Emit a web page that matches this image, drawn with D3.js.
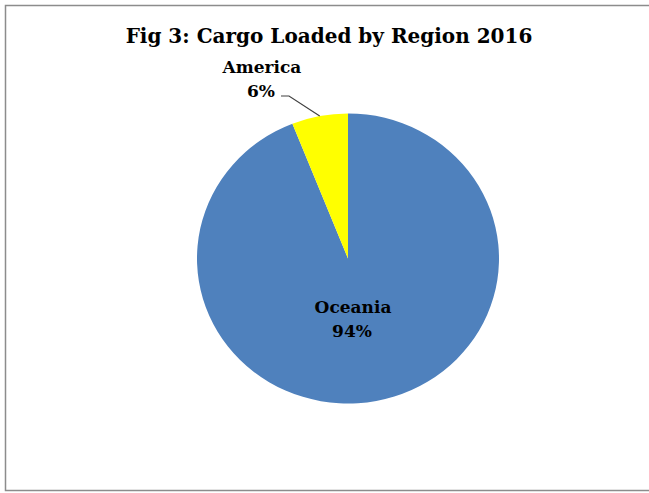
<!DOCTYPE html>
<html>
<head>
<meta charset="utf-8">
<script src="https://cdn.jsdelivr.net/npm/d3@7"></script>
<style>
  body { margin: 0; background: #fff; }
  text { font-family: "DejaVu Serif", "Liberation Serif", serif; font-weight: bold; fill: #000; }
</style>
</head>
<body>
<script>
// data
const regions = ['Oceania', 'America']
const shares = [94, 6]
const colors = ['#4F81BD', '#FFFF00']

const w = 649
const h = 493

// pie geometry (the reference pie is slightly wider than tall)
const cx = 348
const cy = 258.5
const r = 145
const sx = 151 / 145

let svg = d3.select('body')
    .append('svg')
    .attr('width', w)
    .attr('height', h)

// outer frame
svg.append('rect')
    .attr('x', 5.5)
    .attr('y', 5.5)
    .attr('width', w)
    .attr('height', 485)
    .attr('fill', 'none')
    .attr('stroke', '#8c8c8c')
    .attr('stroke-width', 1.5)

// title
svg.append('text')
    .attr('x', 329)
    .attr('y', 43)
    .attr('text-anchor', 'middle')
    .style('font-size', '20px')
    .text('Fig 3: Cargo Loaded by Region 2016')

const data = regions.map((d, i) => ({ region: d, value: shares[i], color: colors[i] }))

const pie = d3.pie().sort(null).value(d => d.value)
const arc = d3.arc().innerRadius(0).outerRadius(r)
const arcs = pie(data)

let g = svg.append('g')
    .attr('transform', `translate(${cx},${cy}) scale(${sx},1)`)

g.selectAll('path')
    .data(arcs)
    .enter()
    .append('path')
    .attr('d', arc)
    .attr('fill', d => d.data.color)

// Oceania label inside the slice
svg.append('text')
    .attr('x', 353)
    .attr('y', 313)
    .attr('text-anchor', 'middle')
    .style('font-size', '17px')
    .text(regions[0])
svg.append('text')
    .attr('x', 352)
    .attr('y', 337)
    .attr('text-anchor', 'middle')
    .style('font-size', '17px')
    .text(shares[0] + '%')

// America label outside with a leader line
const am = arcs[1]
const mid = (am.startAngle + am.endAngle) / 2
const edge = [cx + Math.sin(mid) * r * sx, cy - Math.cos(mid) * r]
svg.append('polyline')
    .attr('points', `281,96 289,96 ${edge[0]},${edge[1]}`)
    .attr('fill', 'none')
    .attr('stroke', '#404040')
    .attr('stroke-width', 1.2)

svg.append('text')
    .attr('x', 262)
    .attr('y', 73)
    .attr('text-anchor', 'middle')
    .style('font-size', '17px')
    .text(regions[1])
svg.append('text')
    .attr('x', 261)
    .attr('y', 97)
    .attr('text-anchor', 'middle')
    .style('font-size', '17px')
    .text(shares[1] + '%')
</script>
</body>
</html>
